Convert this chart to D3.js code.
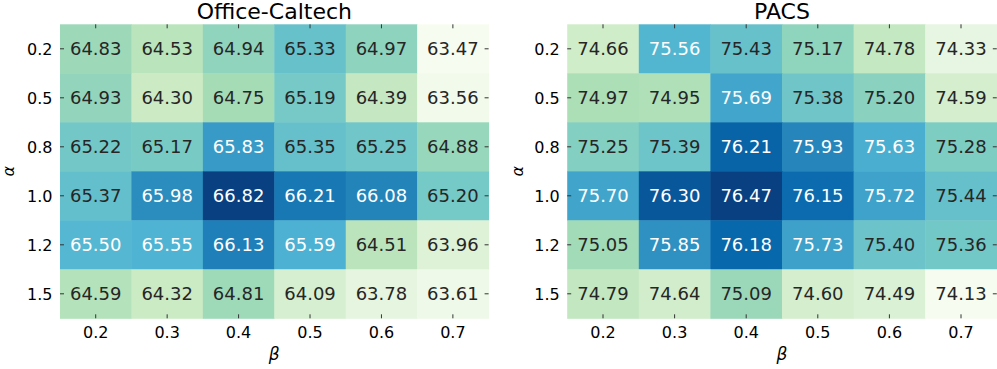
<!DOCTYPE html>
<html><head><meta charset="utf-8">
<script src="https://cdn.jsdelivr.net/npm/d3@7"></script>
<style>
html,body{margin:0;padding:0;background:#fff;}
svg{display:block;font-family:"DejaVu Sans",sans-serif;}
</style></head>
<body><svg id="chart" width="997" height="369"></svg>
<script>
const betas = ["0.2","0.3","0.4","0.5","0.6","0.7"];
const alphas = ["0.2","0.5","0.8","1.0","1.2","1.5"];
const titles = ["Office-Caltech","PACS"];
const officeCaltech = [
  [64.83,64.53,64.94,65.33,64.97,63.47],
  [64.93,64.30,64.75,65.19,64.39,63.56],
  [65.22,65.17,65.83,65.35,65.25,64.88],
  [65.37,65.98,66.82,66.21,66.08,65.20],
  [65.50,65.55,66.13,65.59,64.51,63.96],
  [64.59,64.32,64.81,64.09,63.78,63.61]
];
const pacs = [
  [74.66,75.56,75.43,75.17,74.78,74.33],
  [74.97,74.95,75.69,75.38,75.20,74.59],
  [75.25,75.39,76.21,75.93,75.63,75.28],
  [75.70,76.30,76.47,76.15,75.72,75.44],
  [75.05,75.85,76.18,75.73,75.40,75.36],
  [74.79,74.64,75.09,74.60,74.49,74.13]
];
const gnbu = ["#f7fcf0","#e0f3db","#ccebc5","#a8ddb5","#7bccc4","#4eb3d3","#2b8cbe","#0868ac","#084081"];

const svg = d3.select("#chart");
const panels = [
  {title: titles[0], data: officeCaltech, x0: 60, x1: 488.6, alphaX: 13.5},
  {title: titles[1], data: pacs, x0: 567.2, x1: 996.8, alphaX: 523}
];
const yTop = 24.3, yBot = 318.3;

function lum(c){
  const r = d3.rgb(c);
  const f = v => { v/=255; return v <= 0.03928 ? v/12.92 : Math.pow((v+0.055)/1.055, 2.4); };
  return 0.2126*f(r.r)+0.7152*f(r.g)+0.0722*f(r.b);
}

panels.forEach(p => {
  const flat = p.data.flat();
  const mn = d3.min(flat), mx = d3.max(flat);
  const color = d3.scaleLinear()
    .domain(gnbu.map((_,i)=> mn + (mx-mn)*i/(gnbu.length-1)))
    .range(gnbu).interpolate(d3.interpolateRgb).clamp(true);
  const x = d3.scaleBand().domain(betas).range([p.x0, p.x1]);
  const y = d3.scaleBand().domain(alphas).range([yTop, yBot]);
  const g = svg.append("g");
  const cells = [];
  p.data.forEach((row,i)=>row.forEach((v,j)=>cells.push({a:alphas[i], b:betas[j], v})));
  g.selectAll("rect").data(cells).join("rect")
    .attr("x", d=>x(d.b)).attr("y", d=>y(d.a))
    .attr("width", x.bandwidth()+0.5).attr("height", y.bandwidth()+0.5)
    .attr("fill", d=>color(d.v));
  g.selectAll("text.val").data(cells).join("text").attr("class","val")
    .attr("x", d=>x(d.b)+x.bandwidth()/2).attr("y", d=>y(d.a)+y.bandwidth()/2)
    .attr("dy","0.36em").attr("text-anchor","middle")
    .attr("font-size", 18)
    .attr("fill", d=> lum(color(d.v)) > 0.408 ? "#262626" : "#ffffff")
    .text(d=>d.v.toFixed(2));
  const tl = 4, tc = "#333";
  betas.forEach(b => {
    const cx = x(b)+x.bandwidth()/2;
    g.append("line").attr("x1",cx).attr("x2",cx).attr("y1",yTop).attr("y2",yTop+tl).attr("stroke",tc).attr("stroke-width",1);
    g.append("line").attr("x1",cx).attr("x2",cx).attr("y1",yBot).attr("y2",yBot-tl).attr("stroke",tc).attr("stroke-width",1);
    g.append("text").attr("x",cx).attr("y",337.5).attr("text-anchor","middle").attr("font-size",16).attr("fill","#000").text(b);
  });
  alphas.forEach(a => {
    const cy = y(a)+y.bandwidth()/2;
    g.append("line").attr("x1",p.x0).attr("x2",p.x0+tl).attr("y1",cy).attr("y2",cy).attr("stroke",tc).attr("stroke-width",1);
    g.append("line").attr("x1",p.x1).attr("x2",p.x1-tl).attr("y1",cy).attr("y2",cy).attr("stroke",tc).attr("stroke-width",1);
    g.append("text").attr("x",p.x0-7.5).attr("y",cy).attr("dy","0.36em").attr("text-anchor","end").attr("font-size",16).attr("fill","#000").text(a);
  });
  g.append("text").attr("x",(p.x0+p.x1)/2).attr("y",19).attr("text-anchor","middle").attr("font-size",22).attr("fill","#000").text(p.title);
  g.append("text").attr("x",(p.x0+p.x1)/2).attr("y",360).attr("text-anchor","middle").attr("font-size",17).attr("font-style","italic").attr("fill","#000").text("β");
  g.append("text").attr("transform",`translate(${p.alphaX},${(yTop+yBot)/2}) rotate(-90)`).attr("text-anchor","middle").attr("font-size",16).attr("font-style","italic").attr("fill","#000").text("α");
});
</script></body></html>
